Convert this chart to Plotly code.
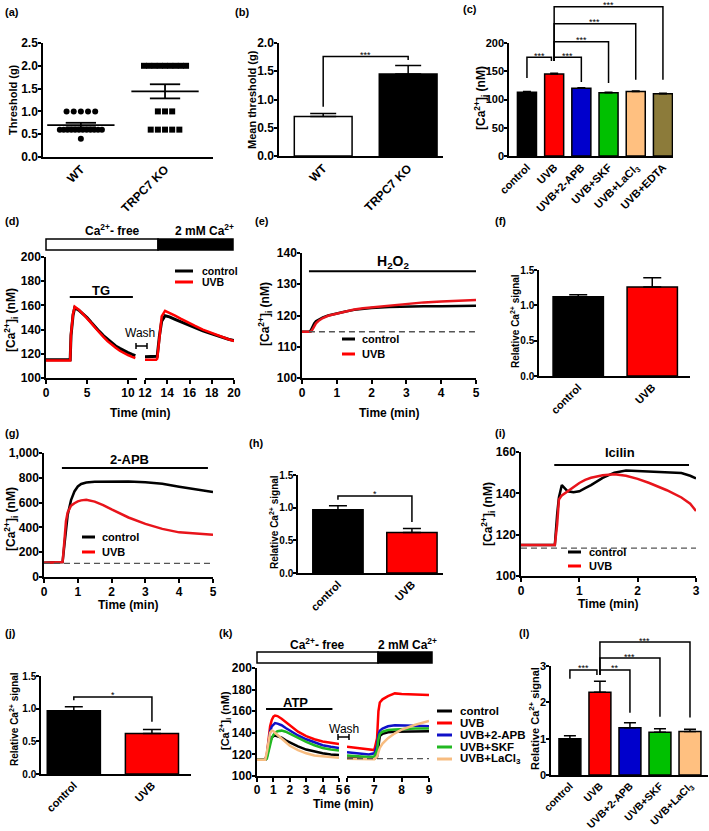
import plotly.graph_objects as go

W, H = 709, 831
FONT = "Arial, 'Liberation Sans', sans-serif"

# ======================= DATA =======================
# (a) individual withdrawal thresholds
a_groups = ["WT", "TRPC7 KO"]
a_wt = [1.0] * 5 + [0.6] * 12 + [0.4]
a_ko = [2.0] * 9 + [1.0] * 3 + [0.6] * 5
a_mean = [0.70, 1.44]
a_sem = [0.05, 0.155]

# (b) mean threshold
b_groups = ["WT", "TRPC7 KO"]
b_mean = [0.70, 1.45]
b_sem = [0.05, 0.15]
b_colors = ["#FFFFFF", "#000000"]

# (c) basal [Ca2+]i
c_groups = ["control", "UVB", "UVB+2-APB", "UVB+SKF", "UVB+LaCl<sub>3</sub>", "UVB+EDTA"]
c_mean = [113, 145, 120, 112, 114, 110]
c_sem = [1.0, 1.5, 1.0, 1.0, 1.0, 1.0]
c_colors = ["#000000", "#FF0000", "#0000CC", "#00C000", "#FFC080", "#8C7B3A"]
c_pairs = [(0, 1), (1, 2), (1, 3), (1, 4), (1, 5)]
c_sig_top = [175, 175, 202, 234, 264]
c_sig_legs = [(138, 168), (168, 131), (168, 129), (168, 135), (168, 135)]
c_sig_text = ["***", "***", "***", "***", "***"]

# (d) TG, Ca-free then 2 mM Ca
d_t1 = [0, 1, 2, 2.95, 3.05, 3.3, 3.5, 4.0, 4.5, 5.0, 5.5, 6.0, 6.5, 7.0, 7.5, 8.0, 8.5, 9.0, 9.5, 10.0, 10.5, 10.9]
d_ctrl1 = [115, 115, 115, 115, 135, 152, 158, 156, 153, 150, 146, 142, 138.5, 135, 132, 129, 126.5, 124.5, 122.5, 121, 119.5, 118.5]
d_uvb1 = [114.5, 114.5, 114.5, 114.5, 136, 153, 159, 156.5, 153, 149.5, 145.5, 141.5, 137.5, 134, 130.5, 127.5, 125, 122.5, 120.5, 119, 117.5, 116.5]
d_t2 = [12, 12.5, 13.0, 13.1, 13.3, 13.5, 13.8, 14.2, 14.7, 15.2, 15.8, 16.5, 17.2, 18.0, 18.8, 19.5, 20]
d_ctrl2 = [117.5, 117.5, 117.5, 118, 135, 147, 151.5, 150.5, 148.5, 146.5, 144, 141.5, 139, 136.5, 134, 132, 131]
d_uvb2 = [115, 115, 115, 116, 137, 151, 155.5, 154, 151.5, 149, 146, 143, 140, 137, 134.5, 132, 130.5]
d_tg = [2.9, 10.6]
d_tg_y = 167

# (e) H2O2
e_t = [0, 0.2, 0.25, 0.3, 0.35, 0.4, 0.5, 0.6, 0.75, 1.0, 1.25, 1.5, 1.75, 2.0, 2.5, 3.0, 3.5, 4.0, 4.5, 5.0]
e_ctrl = [114.8, 114.8, 115.2, 116.5, 117.5, 118.2, 118.9, 119.4, 120.0, 120.7, 121.3, 121.8, 122.1, 122.4, 122.7, 122.9, 123.0, 123.0, 123.1, 123.1]
e_uvb = [114.8, 114.8, 114.8, 115.5, 116.5, 117.5, 118.5, 119.2, 119.9, 120.6, 121.3, 121.9, 122.3, 122.6, 123.2, 123.8, 124.2, 124.5, 124.8, 125.0]
e_drug = [0.2, 5.0]
e_drug_y = 134.2
e_base = 114.8

# (f)
f_groups = ["control", "UVB"]
f_mean = [1.12, 1.26]
f_sem = [0.03, 0.13]

# (g) 2-APB
g_t = [0, 0.5, 0.55, 0.6, 0.65, 0.7, 0.75, 0.8, 0.9, 1.0, 1.1, 1.25, 1.5, 1.75, 2.0, 2.25, 2.5, 3.0, 3.5, 4.0, 4.5, 5.0]
g_ctrl = [115, 115, 120, 250, 400, 500, 560, 620, 690, 730, 750, 762, 768, 770, 772, 772, 770, 765, 752, 728, 705, 685]
g_uvb = [115, 115, 120, 280, 450, 520, 555, 575, 595, 610, 618, 622, 608, 580, 545, 512, 480, 428, 388, 360, 347, 340]
g_drug = [0.53, 4.85]
g_drug_y = 879
g_base = 110

# (h)
h_groups = ["control", "UVB"]
h_mean = [0.97, 0.62]
h_sem = [0.06, 0.06]

# (i) Icilin
i_t = [0, 0.58, 0.62, 0.65, 0.7, 0.75, 0.8, 0.9, 1.0, 1.1, 1.2, 1.4, 1.6, 1.8, 2.0, 2.2, 2.5, 2.75, 2.9, 3.0]
i_ctrl = [115, 115, 130, 138, 144, 142.5, 141, 140.5, 141, 142.5, 144, 147.5, 150, 151, 150.7, 150.3, 150, 149.8, 148.5, 147.2]
i_uvb = [115, 115, 125, 137, 139, 140, 141, 143, 145, 146.5, 147.5, 148.7, 149.2, 148.5, 147, 145, 141.5, 138, 135, 131.5]
i_drug = [0.57, 2.88]
i_drug_y = 153.7
i_base = 113.5

# (j)
j_groups = ["control", "UVB"]
j_mean = [0.97, 0.62]
j_sem = [0.06, 0.06]

# (k) ATP, Ca-free then 2 mM Ca
k_names = ["control", "UVB", "UVB+2-APB", "UVB+SKF", "UVB+LaCl<sub>3</sub>"]
k_colors = ["#000000", "#FF0000", "#1010C8", "#22B822", "#F7BC80"]
k_t1 = [0, 0.5, 0.6, 0.7, 0.8, 0.9, 1.0, 1.1, 1.25, 1.5, 1.75, 2.0, 2.5, 3.0, 3.5, 4.0, 4.5, 5.0]
k_y1 = [
    [115, 115, 118, 126, 132, 135.5, 137, 137.5, 137, 135.5, 133, 131, 127.5, 124.5, 122.5, 121, 120, 119.5],
    [115, 115, 120, 135, 146, 152, 155, 156, 155.5, 153, 150, 146.5, 141, 137, 134, 132, 130.5, 129.5],
    [115, 115, 119, 132, 141, 146, 148, 149, 148.5, 147, 144.5, 142, 137.5, 134, 131, 128.5, 127, 126],
    [115, 115, 116, 122, 130, 135, 138, 140, 141.5, 142, 141, 139, 135, 131.5, 128.5, 126, 124.5, 123.5],
    [115, 115, 122, 133, 140, 142, 141.5, 140, 138, 134, 131, 128, 124, 121, 119, 118, 117.5, 117],
]
k_t2 = [6.0, 6.3, 6.6, 6.8, 7.0, 7.1, 7.15, 7.2, 7.3, 7.5, 7.75, 8.0, 8.5, 9.0]
k_y2 = [
    [117, 116.5, 116, 116, 116, 118, 130, 137, 139, 140.5, 141, 141, 141.5, 141.5],
    [127, 126, 125, 124.5, 124, 135, 160, 168, 171, 174, 176.5, 176, 175.5, 175],
    [122, 121.5, 121, 120, 121, 128, 138, 142, 144, 146, 147, 147, 146.5, 146],
    [119, 118.5, 118, 117.5, 118, 124, 134, 139, 141, 142.5, 143, 143.5, 144, 144],
    [116, 116, 115.5, 115.5, 115.5, 118, 122, 126, 130, 135, 139.5, 143, 147.5, 151],
]
k_drug = [0.55, 4.6]
k_drug_y = 162
k_base = 116

# (l)
l_groups = ["control", "UVB", "UVB+2-APB", "UVB+SKF", "UVB+LaCl<sub>3</sub>"]
l_mean = [1.00, 2.28, 1.30, 1.18, 1.20]
l_sem = [0.08, 0.30, 0.14, 0.09, 0.06]
l_colors = ["#000000", "#FF0000", "#0000CC", "#00C000", "#FFC080"]
l_pairs = [(0, 1), (1, 2), (1, 3), (1, 4)]
l_sig_top = [2.89, 2.89, 3.22, 3.66]
l_sig_legs = [(2.65, 2.75), (2.75, 1.71), (2.75, 1.60), (2.75, 1.58)]
l_sig_text = ["***", "**", "***", "***"]

# ======================= LAYOUT HELPERS =======================
fig = go.Figure()
layout = dict(width=W, height=H, margin=dict(l=0, r=0, t=0, b=0, autoexpand=False),
              paper_bgcolor="white", plot_bgcolor="rgba(0,0,0,0)", showlegend=False,
              font=dict(family=FONT, color="black", size=12))
shapes, annotations = [], []
YINFO = {}

AX = dict(showline=True, linecolor="black", linewidth=1.5, showgrid=False, zeroline=False,
          ticks="outside", ticklen=4, tickwidth=1.5, tickcolor="black", automargin=False)


def ax_key(letter, i):
    return f"{letter}axis" if i == 1 else f"{letter}axis{i}"


def ax_id(letter, i):
    return letter if i == 1 else f"{letter}{i}"


def PX(x):
    return x / W


def PY(y):
    return 1 - y / H


def text(xp, yp, s, size=12, xanchor="center", yanchor="middle", weight="bold", angle=0):
    annotations.append(dict(x=PX(xp), y=PY(yp), xref="paper", yref="paper", text=s, showarrow=False,
                            xanchor=xanchor, yanchor=yanchor, textangle=angle,
                            font=dict(family=FONT, size=size, color="black", weight=weight)))


def set_x(i, xpx, rng, yi, tickvals, ticktext=None, size=12, angle=0, ticks="outside", standoff=-1):
    d = dict(AX)
    d.update(domain=[xpx[0] / W, xpx[1] / W], range=rng, anchor=ax_id("y", yi),
             tickvals=tickvals, ticks=ticks, tickangle=angle, ticklabelstandoff=standoff,
             tickfont=dict(family=FONT, size=size, color="black", weight="bold"))
    if ticktext is not None:
        d["ticktext"] = ticktext
    layout[ax_key("x", i)] = d


def set_y(i, ypx, rng, xi, tickvals, fmt, title, title_pos, tsize=12, fsize=12):
    d = dict(AX)
    d.update(domain=[1 - ypx[1] / H, 1 - ypx[0] / H], range=rng, anchor=ax_id("x", xi),
             tickvals=tickvals, tickformat=fmt, ticklen=3, ticklabelstandoff=-2,
             tickfont=dict(family=FONT, size=fsize, color="black", weight="bold"))
    layout[ax_key("y", i)] = d
    YINFO[i] = (ypx, rng)
    text(title_pos[0], title_pos[1], title, size=tsize, angle=-90)


def YP(i, v):
    (top, bot), (r0, r1) = YINFO[i]
    pix = bot - (v - r0) / (r1 - r0) * (bot - top)
    return 1 - pix / H


def bar_panel(i, groups, means, sems, colors, width, capw):
    xs = list(range(len(groups)))
    fig.add_trace(go.Bar(x=xs, y=means, width=width,
                         marker=dict(color=colors, line=dict(color="black", width=1.5)),
                         error_y=dict(type="data", array=sems, arrayminus=[0] * len(sems), symmetric=False,
                                      color="black", thickness=1.5, width=capw),
                         xaxis=ax_id("x", i), yaxis=ax_id("y", i), hoverinfo="skip"))
    return xs


def brackets(i, pairs, tops, legs, texts, fsize=9, gap=0.1):
    multi = len(pairs) > 1
    for (a, b), top, (l0, l1), t in zip(pairs, tops, legs, texts):
        x0 = a
        x1 = b - gap if (multi and b == 1) else b
        path = (f"M {x0},{YP(i, l0)} L {x0},{YP(i, top)} L {x1},{YP(i, top)} L {x1},{YP(i, l1)}")
        shapes.append(dict(type="path", path=path, xref=ax_id("x", i), yref="paper",
                           line=dict(color="black", width=1.5)))
        annotations.append(dict(x=(x0 + x1) / 2, y=YP(i, top) + 1.5 / H, xref=ax_id("x", i), yref="paper",
                                text=t, showarrow=False, yanchor="middle",
                                font=dict(family=FONT, size=fsize, color="black")))


def drug_bar(xi, yi, span, yv, lw=2):
    shapes.append(dict(type="line", x0=span[0], x1=span[1], y0=yv, y1=yv,
                       xref=ax_id("x", xi), yref=ax_id("y", yi), line=dict(color="black", width=lw)))


def baseline(xi, yi, x0, x1, yv):
    shapes.append(dict(type="line", x0=x0, x1=x1, y0=yv, y1=yv, xref=ax_id("x", xi), yref=ax_id("y", yi),
                       line=dict(color="#555555", width=1.3, dash="6px,4px")))


def legend(entries, x0, x1, xt, size=11):
    for name, col, yy in entries:
        shapes.append(dict(type="line", x0=PX(x0), x1=PX(x1), y0=PY(yy), y1=PY(yy), xref="paper", yref="paper",
                           line=dict(color=col, width=3)))
        text(xt, yy, name, size=size, xanchor="left")


def line(i_x, i_y, xs, ys, col, w=2.5):
    fig.add_trace(go.Scatter(x=xs, y=ys, mode="lines", line=dict(color=col, width=w),
                             xaxis=ax_id("x", i_x), yaxis=ax_id("y", i_y), hoverinfo="skip"))


CA = "[Ca<sup>2+</sup>]<sub>i</sub> (nM)"
REL = "Relative Ca<sup>2+</sup> signal"

# ======================= (a) =======================
set_x(1, (43, 213), [-0.45, 1.57], 1, [0, 1], a_groups, size=12, angle=-45, ticks="")
set_y(1, (43, 157), [0, 2.5], 1, [0, 0.5, 1.0, 1.5, 2.0, 2.5], ".1f", "Threshold (g)", (13, 100), tsize=11, fsize=12)


def swarm(values, center):
    xs, ys = [], []
    for v in sorted(set(values), reverse=True):
        n = values.count(v)
        step = min(0.085, 0.5 / max(n - 1, 1))
        for k in range(n):
            xs.append(center + (k - (n - 1) / 2) * step)
            ys.append(v)
    return xs, ys


for gi, (vals, sym) in enumerate([(a_wt, "circle"), (a_ko, "square")]):
    sx, sy = swarm(vals, gi)
    fig.add_trace(go.Scatter(x=sx, y=sy, mode="markers", marker=dict(symbol=sym, size=6, color="black"),
                             xaxis="x", yaxis="y", hoverinfo="skip"))
    m, s = a_mean[gi], a_sem[gi]
    fig.add_trace(go.Scatter(x=[gi - 0.4, gi + 0.4, None, gi, gi, None, gi - 0.18, gi + 0.18, None, gi - 0.18, gi + 0.18],
                             y=[m, m, None, m - s, m + s, None, m + s, m + s, None, m - s, m - s],
                             mode="lines", line=dict(color="black", width=1.8), xaxis="x", yaxis="y",
                             hoverinfo="skip"))

# ======================= (b) =======================
set_x(2, (279, 443), [-0.52, 1.41], 2, [0, 1], b_groups, size=12, angle=-45, ticks="")
set_y(2, (43, 156), [0, 2.0], 2, [0, 0.5, 1.0, 1.5, 2.0], ".1f", "Mean threshold (g)", (252, 100), tsize=11, fsize=12)
bar_panel(2, b_groups, b_mean, b_sem, b_colors, 0.68, 13)
brackets(2, [(0, 1)], [1.76], [(0.87, 1.70)], ["***"])

# ======================= (c) =======================
set_x(3, (509, 673), [-0.66, 5.37], 3, list(range(len(c_groups))), c_groups, size=11, angle=-45, ticks="")
set_y(3, (43, 156), [0, 200], 3, [0, 50, 100, 150, 200], "d", CA, (481, 98), tsize=12, fsize=11)
bar_panel(3, c_groups, c_mean, c_sem, c_colors, 0.7, 4)
brackets(3, c_pairs, c_sig_top, c_sig_legs, c_sig_text)

# ======================= (d) =======================
set_x(4, (46, 137), [0, 11.1], 4, [0, 5, 10])
set_x(5, (145, 234), [12, 20], 4, [12, 14, 16, 18, 20])
set_y(4, (257, 378), [100, 200], 4, [100, 120, 140, 160, 180, 200], "d", CA, (11, 320), tsize=12, fsize=12)
line(4, 4, d_t1, d_ctrl1, "black", 3)
line(4, 4, d_t1, d_uvb1, "#FF0000", 2.5)
line(5, 4, d_t2, d_ctrl2, "black", 3)
line(5, 4, d_t2, d_uvb2, "#FF0000", 2.5)
drug_bar(4, 4, d_tg, d_tg_y)
annotations.append(dict(x=sum(d_tg) / 2, y=d_tg_y + 5.5, xref="x4", yref="y4", text="TG", showarrow=False,
                        font=dict(family=FONT, size=13, color="black", weight="bold")))
# Ca box
shapes.append(dict(type="rect", x0=PX(46), x1=PX(158), y0=PY(250), y1=PY(239), xref="paper", yref="paper",
                   line=dict(color="black", width=1.5), fillcolor="white"))
shapes.append(dict(type="rect", x0=PX(158), x1=PX(233), y0=PY(250), y1=PY(239), xref="paper", yref="paper",
                   line=dict(color="black", width=1.5), fillcolor="black"))
text(112, 230, "Ca<sup>2+</sup>- free", 12)
text(204, 230, "2 mM Ca<sup>2+</sup>", 12)
# wash
shapes.append(dict(type="path", path=f"M {PX(136)},{PY(343)} L {PX(136)},{PY(349)} M {PX(136)},{PY(346)} L {PX(147)},{PY(346)} M {PX(147)},{PY(343)} L {PX(147)},{PY(349)}",
                   xref="paper", yref="paper", line=dict(color="black", width=1.5)))
text(140, 333, "Wash", 12, weight="normal")
legend([("control", "black", 271), ("UVB", "#FF0000", 282)], 175, 193, 200, 10.5)
text(140, 413, "Time (min)", 12)

# ======================= (e) =======================
set_x(6, (302, 476), [0, 5], 6, [0, 1, 2, 3, 4, 5])
set_y(6, (253, 378), [100, 140], 6, [100, 110, 120, 130, 140], "d", CA, (265, 314), tsize=12, fsize=12)
baseline(6, 6, 0.2, 5, e_base)
line(6, 6, e_t, e_ctrl, "black", 2.5)
line(6, 6, e_t, e_uvb, "#E8141B", 2.5)
drug_bar(6, 6, e_drug, e_drug_y)
text(393, 262, "H<sub>2</sub>O<sub>2</sub>", 14)
legend([("control", "black", 339), ("UVB", "#FF0000", 354)], 342, 355, 360, 11)
text(389, 413, "Time (min)", 12)

# ======================= (f) =======================
set_x(7, (539, 690), [-0.53, 1.51], 7, [0, 1], f_groups, size=11, angle=-45, ticks="")
set_y(7, (270, 376), [0, 1.5], 7, [0, 0.5, 1.0, 1.5], ".1f", REL, (515, 321), tsize=10, fsize=10)
bar_panel(7, f_groups, f_mean, f_sem, ["#000000", "#FF0000"], 0.68, 9)

# ======================= (g) =======================
set_x(8, (44, 213), [0, 5], 8, [0, 1, 2, 3, 4, 5])
set_y(8, (453, 577), [0, 1000], 8, [0, 200, 400, 600, 800, 1000], ",", CA, (11, 519), tsize=12, fsize=12)
baseline(8, 8, 0, 5, g_base)
line(8, 8, g_t, g_ctrl, "black", 2.5)
line(8, 8, g_t, g_uvb, "#E8141B", 2.5)
drug_bar(8, 8, g_drug, g_drug_y)
text(129, 460, "2-APB", 13)
legend([("control", "black", 537), ("UVB", "#FF0000", 552)], 82, 95, 100, 11)
text(128, 605, "Time (min)", 12)

# ======================= (h) =======================
set_x(9, (298, 443), [-0.54, 1.42], 9, [0, 1], h_groups, size=11, angle=-45, ticks="")
set_y(9, (475, 573), [0, 1.5], 9, [0, 0.5, 1.0, 1.5], ".1f", REL, (274, 522), tsize=10, fsize=10)
bar_panel(9, h_groups, h_mean, h_sem, ["#000000", "#FF0000"], 0.68, 9)
brackets(9, [(0, 1)], [1.18], [(1.12, 0.78)], ["*"])

# ======================= (i) =======================
set_x(10, (521, 696), [0, 3], 10, [0, 1, 2, 3])
set_y(10, (452, 576), [100, 160], 10, [100, 120, 140, 160], "d", CA, (488, 514), tsize=12, fsize=12)
baseline(10, 10, 0, 3, i_base)
line(10, 10, i_t, i_ctrl, "black", 2.5)
line(10, 10, i_t, i_uvb, "#E8141B", 2.5)
drug_bar(10, 10, i_drug, i_drug_y)
text(620, 452, "Icilin", 13)
legend([("control", "black", 552), ("UVB", "#FF0000", 566)], 568, 581, 587, 11)
text(608, 604, "Time (min)", 12)

# ======================= (j) =======================
set_x(11, (41, 191), [-0.42, 1.5], 11, [0, 1], j_groups, size=11, angle=-45, ticks="")
set_y(11, (676, 774), [0, 1.5], 11, [0, 0.5, 1.0, 1.5], ".1f", REL, (14, 719), tsize=10, fsize=10)
bar_panel(11, j_groups, j_mean, j_sem, ["#000000", "#FF0000"], 0.68, 9)
brackets(11, [(0, 1)], [1.18], [(1.13, 0.80)], ["*"])

# ======================= (k) =======================
set_x(12, (257, 339), [0, 5], 12, [0, 1, 2, 3, 4, 5], standoff=-2)
set_x(13, (347, 429), [6, 9], 12, [6, 7, 8, 9], standoff=-2)
set_y(12, (668, 776), [100, 200], 12, [100, 120, 140, 160, 180, 200], "d", CA, (225, 721), tsize=11, fsize=12)
baseline(13, 12, 6.0, 9, k_base)
for n in range(len(k_names)):
    line(12, 12, k_t1, k_y1[n], k_colors[n], 2.5)
    line(13, 12, k_t2, k_y2[n], k_colors[n], 2.5)
drug_bar(12, 12, k_drug, k_drug_y)
annotations.append(dict(x=sum(k_drug) / 2 - 0.2, y=k_drug_y + 6.5, xref="x12", yref="y12", text="ATP",
                        showarrow=False, font=dict(family=FONT, size=13, color="black", weight="bold")))
shapes.append(dict(type="rect", x0=PX(257), x1=PX(378), y0=PY(663), y1=PY(652), xref="paper", yref="paper",
                   line=dict(color="black", width=1.5), fillcolor="white"))
shapes.append(dict(type="rect", x0=PX(378), x1=PX(432), y0=PY(663), y1=PY(652), xref="paper", yref="paper",
                   line=dict(color="black", width=1.5), fillcolor="black"))
text(317, 644, "Ca<sup>2+</sup>- free", 12)
text(407, 644, "2 mM Ca<sup>2+</sup>", 12)
shapes.append(dict(type="path", path=f"M {PX(338)},{PY(734)} L {PX(338)},{PY(740)} M {PX(338)},{PY(737)} L {PX(349)},{PY(737)} M {PX(349)},{PY(734)} L {PX(349)},{PY(740)}",
                   xref="paper", yref="paper", line=dict(color="black", width=1.5)))
text(344, 729, "Wash", 12, weight="normal")
legend([(k_names[n], k_colors[n], 711 + 12 * n) for n in range(len(k_names))], 437, 452, 458, 11.5)
text(343, 804, "Time (min)", 12)

# ======================= (l) =======================
set_x(14, (551, 708), [-0.63, 4.6], 14, list(range(len(l_groups))), l_groups, size=10.5, angle=-45, ticks="")
set_y(14, (666, 775), [0, 3], 14, [0, 1, 2, 3], "d", REL, (534, 719), tsize=11, fsize=11)
bar_panel(14, l_groups, l_mean, l_sem, l_colors, 0.73, 6)
brackets(14, l_pairs, l_sig_top, l_sig_legs, l_sig_text)

# ======================= panel letters =======================
for lab, xx, yy in [("(a)", 3, 12), ("(b)", 233, 12), ("(c)", 461, 9), ("(d)", 3, 221), ("(e)", 253, 221),
                    ("(f)", 493, 221), ("(g)", 3, 433), ("(h)", 247, 443), ("(i)", 493, 433),
                    ("(j)", 3, 633), ("(k)", 217, 633), ("(l)", 517, 633)]:
    text(xx, yy, lab, 11, xanchor="left")

layout["shapes"] = shapes
layout["annotations"] = annotations
fig.update_layout(**layout)
fig.write_html("out.html", config={"displayModeBar": False},
               post_script="document.body.style.margin='0px';document.body.style.padding='0px';")
